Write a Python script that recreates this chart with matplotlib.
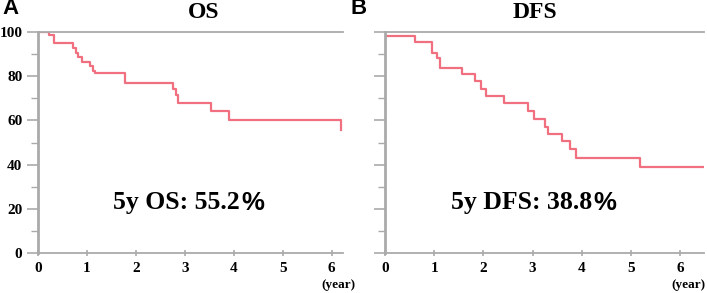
import matplotlib
matplotlib.use("Agg")
import matplotlib.pyplot as plt
from matplotlib.ticker import MultipleLocator

# Overall survival (panel A)
os_time = [0, 0.23, 0.33, 0.72, 0.78, 0.83, 0.90, 1.06, 1.12, 1.16, 1.78, 2.77, 2.82, 2.87, 3.53, 3.91, 6.18]
os_surv = [100, 98.6, 95.0, 93.0, 90.8, 88.8, 86.6, 84.7, 82.6, 81.7, 77.0, 74.3, 71.7, 67.9, 64.2, 60.2, 55.5]
# Disease-free survival (panel B), last point = end of follow-up
dfs_time = [0, 0.005, 0.61, 0.95, 1.06, 1.12, 1.56, 1.83, 1.94, 2.05, 2.42, 2.91, 3.02, 3.25, 3.32, 3.59, 3.76, 3.89, 5.18, 6.48]
dfs_surv = [100, 98.4, 95.6, 90.6, 88.2, 84.0, 80.9, 77.9, 74.1, 71.1, 67.9, 64.1, 60.6, 57.0, 54.0, 50.5, 46.9, 42.9, 39.0, 39.0]

panel_letters = ["A", "B"]
titles = ["OS", "DFS"]
notes = ["5y OS: 55.2", "5y DFS: 38.8"]
x_ticks = [0, 1, 2, 3, 4, 5, 6]
y_ticks = [0, 20, 40, 60, 80, 100]

W, H = 707, 293
fig = plt.figure(figsize=(W / 100, H / 100), dpi=100)

curve_color = "#f07080"
axis_color = "#aaaaaa"
serif = "Liberation Serif"

def make_axes(x0, x1, y_top, y_bot):
    return fig.add_axes([x0 / W, (H - y_bot) / H, (x1 - x0) / W, (y_bot - y_top) / H])

axA = make_axes(37.7, 343, 32.3, 252.7)
axB = make_axes(385, 704, 32.3, 252.7)

setups = [
    (axA, os_time, os_surv, 6.23, True),
    (axB, dfs_time, dfs_surv, 6.48, False),
]
for ax, t, s, xmax, ylabels in setups:
    ax.step(t, s, where="post", color=curve_color, lw=1.6)
    ax.set_xlim(0, xmax)
    ax.set_ylim(0, 100)
    ax.spines["right"].set_visible(False)
    for sp in ["left", "bottom", "top"]:
        ax.spines[sp].set_color(axis_color)
    ax.spines["left"].set_linewidth(2.0)
    ax.spines["bottom"].set_linewidth(1.3)
    ax.spines["top"].set_linewidth(1.3)
    ax.set_xticks(x_ticks)
    ax.set_yticks(y_ticks)
    ax.yaxis.set_minor_locator(MultipleLocator(10))
    ax.tick_params(axis="y", which="major", length=8, width=1.2, color=axis_color, direction="out", pad=3)
    ax.tick_params(axis="y", which="minor", length=5, width=1.0, color=axis_color, direction="out")
    ax.tick_params(axis="x", which="major", length=4, width=1.2, color=axis_color, direction="inout", pad=5)
    for lab in ax.get_xticklabels() + ax.get_yticklabels():
        lab.set_fontfamily(serif)
        lab.set_fontweight("bold")
        lab.set_fontsize(11)
    if not ylabels:
        ax.set_yticklabels([])
    ax.set_facecolor("white")

# Titles / letters
fig.text(2 / W, 1 - 9 / H, panel_letters[0], fontsize=16, fontweight="bold", family="Liberation Sans", va="center", ha="left")
fig.text(351 / W, 1 - 9 / H, panel_letters[1], fontsize=16, fontweight="bold", family="Liberation Sans", va="center", ha="left")
fig.text(204 / W, 1 - 12 / H, titles[0], fontsize=17, fontweight="bold", family=serif, va="center", ha="center")
fig.text(535 / W, 1 - 12 / H, titles[1], fontsize=17, fontweight="bold", family=serif, va="center", ha="center")

# Notes: number in serif, "%" in sans as in the reference
for (cx, note) in [(188, notes[0]), (533, notes[1])]:
    t1 = fig.text(0, 1 - 203 / H, note, fontsize=18.5, fontweight="bold", family=serif, va="center", ha="left")
    t2 = fig.text(0, 1 - 203 / H, "%", fontsize=18.5, fontweight="bold", family="Liberation Sans", va="center", ha="left")
    r = fig.canvas.get_renderer()
    w1 = t1.get_window_extent(r).width
    w2 = t2.get_window_extent(r).width
    x0 = cx - (w1 + w2) / 2
    t1.set_x(x0 / W)
    t2.set_x((x0 + w1 + 1) / W)

fig.text(355 / W, 1 - 285 / H, "(year)", fontsize=9.5, fontweight="bold", family=serif, va="center", ha="right")
fig.text(706 / W, 1 - 285 / H, "(year)", fontsize=9.5, fontweight="bold", family=serif, va="center", ha="right")

fig.savefig("out.png", dpi=100, facecolor="white")
